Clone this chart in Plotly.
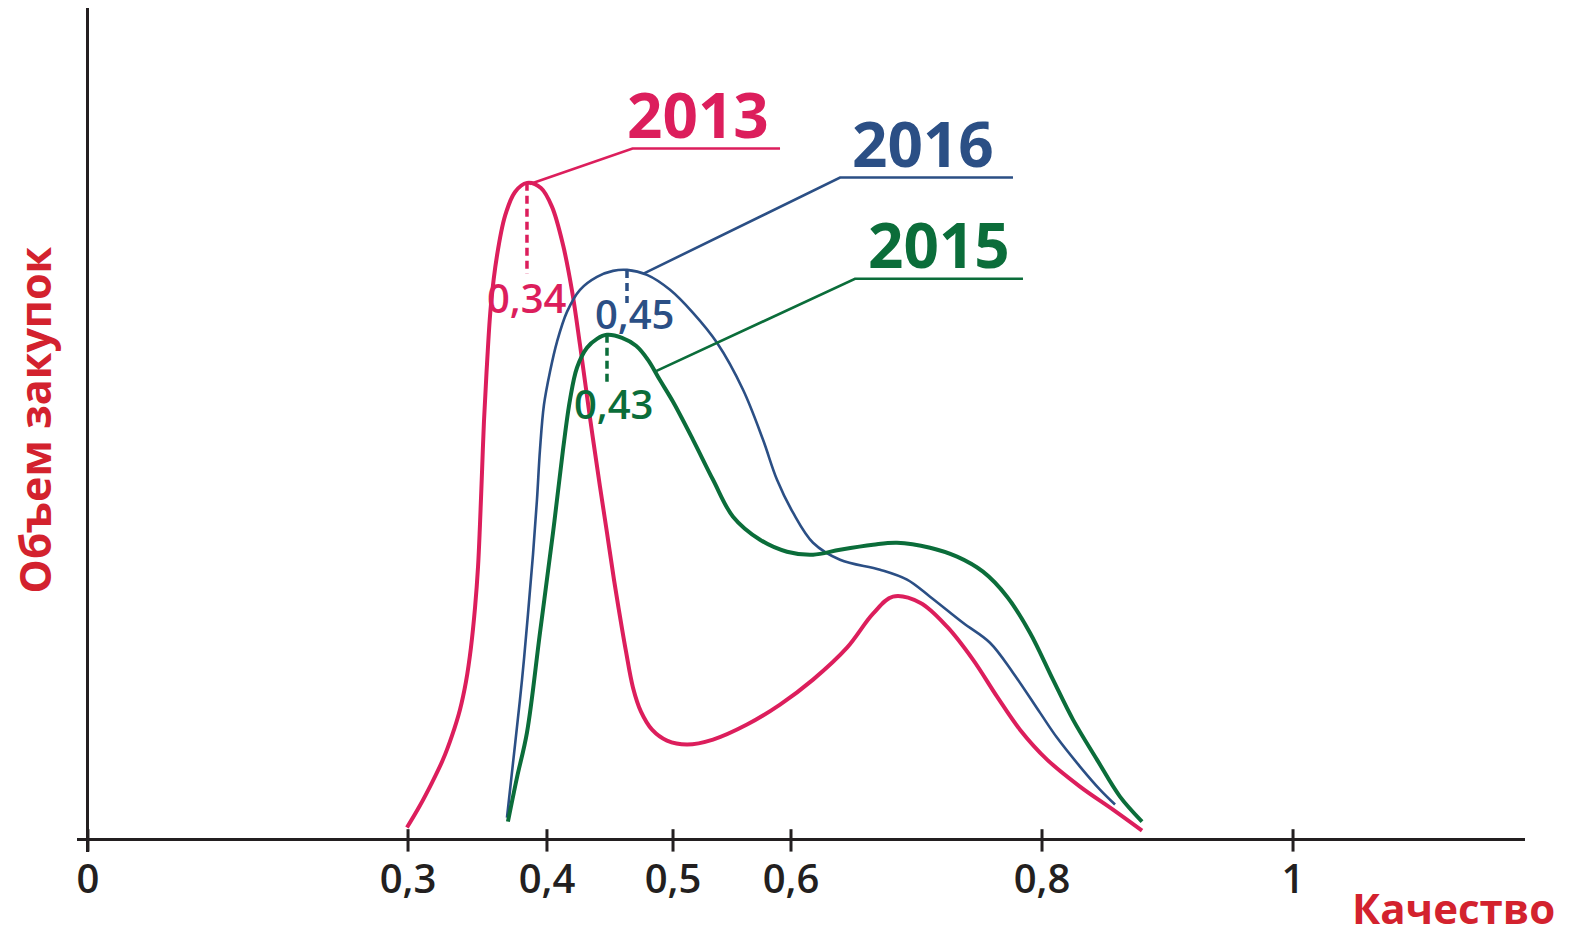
import numpy as np
import plotly.graph_objects as go

# ---- data (x in axis-position units, y = purchase volume, arbitrary units) ----
tick_labels = ["0", "0,3", "0,4", "0,5", "0,6", "0,8", "1"]
tick_pos = [0.0, 0.2656, 0.3809, 0.4855, 0.5834, 0.7917, 1.0]

x_2013 = [0.2647, 0.2755, 0.2855, 0.2946, 0.3021, 0.3087, 0.3137, 0.3178, 0.3212, 0.3237,
          0.3253, 0.3270, 0.3286, 0.3311, 0.3344, 0.3394, 0.3461, 0.3544, 0.3643, 0.3759,
          0.3851, 0.3942, 0.4017, 0.4083, 0.4166, 0.4249, 0.4307, 0.4365, 0.4415, 0.4465,
          0.4523, 0.4589, 0.4681, 0.4805, 0.4971, 0.5187, 0.5469, 0.5743, 0.6017, 0.6299,
          0.6515, 0.6680, 0.6905, 0.7129, 0.7344, 0.7544, 0.7734, 0.7959, 0.8232, 0.8506,
          0.8747]
y_2013 = [1.45, 4.10, 6.87, 9.64, 12.53, 15.66, 19.04, 23.13, 27.95, 32.89,
          37.95, 44.34, 50.36, 57.23, 64.46, 70.36, 75.18, 78.07, 79.16, 78.55,
          76.27, 71.69, 66.14, 59.64, 50.84, 42.53, 36.99, 31.33, 26.87, 22.65,
          18.31, 15.42, 13.25, 11.93, 11.45, 12.05, 13.86, 16.27, 19.28, 23.13,
          27.23, 29.28, 28.55, 25.66, 21.69, 17.23, 13.25, 9.64, 6.39, 3.61,
          1.08]

x_2016 = [0.3477, 0.3544, 0.3602, 0.3651, 0.3693, 0.3726, 0.3751, 0.3784, 0.3834, 0.3892,
          0.3975, 0.4083, 0.4224, 0.4357, 0.4473, 0.4639, 0.4830, 0.5021, 0.5220, 0.5436,
          0.5602, 0.5718, 0.5851, 0.6017, 0.6241, 0.6573, 0.6797, 0.6988, 0.7261, 0.7485,
          0.7676, 0.7900, 0.8041, 0.8232, 0.8398, 0.8523]
y_2016 = [2.65, 11.45, 19.28, 27.11, 34.34, 40.96, 46.99, 52.41, 56.39, 60.00,
          63.61, 66.27, 67.83, 68.55, 68.67, 68.07, 66.27, 63.49, 59.88, 54.22,
          48.19, 43.37, 39.40, 35.78, 33.73, 32.53, 31.33, 29.28, 26.14, 23.73,
          20.12, 15.30, 12.29, 8.80, 6.02, 4.22]

x_2015 = [0.3485, 0.3560, 0.3643, 0.3751, 0.3859, 0.3942, 0.4000, 0.4058, 0.4141, 0.4224,
          0.4307, 0.4432, 0.4548, 0.4647, 0.4745, 0.4855, 0.5021, 0.5187, 0.5353, 0.5577,
          0.5801, 0.6017, 0.6241, 0.6515, 0.6714, 0.6988, 0.7212, 0.7427, 0.7627, 0.7817,
          0.8008, 0.8174, 0.8373, 0.8564, 0.8747]
y_2015 = [2.17, 7.47, 12.89, 24.94, 36.99, 46.99, 53.01, 56.87, 59.28, 60.36,
          60.84, 60.48, 59.52, 57.83, 55.42, 52.77, 48.19, 43.37, 38.92, 36.14,
          34.70, 34.34, 34.94, 35.54, 35.78, 35.18, 34.10, 32.29, 29.28, 24.94,
          19.28, 14.46, 9.64, 5.18, 2.17]

years = ["2013", "2016", "2015"]
peak_labels = ["0,34", "0,45", "0,43"]
colors = ["#dc1e5c", "#2b4f85", "#0b6d3a"]
widths = [4, 2.6, 4]
# leader lines: start on curve, elbow, end of underline (axis units)
leader_start_x = [0.3668, 0.4606, 0.4705]
label_elbow_x = [0.4519, 0.6241, 0.6365]
label_end_x = [0.5743, 0.7676, 0.7759]
label_line_y = [83.3, 79.8, 67.6]
year_label_x = [0.5062, 0.6929, 0.7062]
# peak-value label offsets below the peak
dash_len = [11.0, 4.0, 6.0]
peak_text_dy = [13.8, 5.3, 8.3]
peak_text_dx = [0.0, 0.007, 0.006]

series = [(x_2013, y_2013), (x_2016, y_2016), (x_2015, y_2015)]

AX_COLOR = "#231f20"
TITLE_RED = "#d3222e"
FONT = "Open Sans"

fig = go.Figure()

for (xs, ys), name, col, w in zip(series, years, colors, widths):
    fig.add_trace(go.Scatter(x=xs, y=ys, mode="lines", name=name,
                             line=dict(color=col, width=w, shape="spline", smoothing=1.0),
                             hoverinfo="skip", showlegend=False))

annotations = []
for i, ((xs, ys), name, col) in enumerate(zip(series, years, colors)):
    k = int(np.argmax(ys))
    px, py = xs[k], ys[k]
    # dashed drop line from peak
    fig.add_trace(go.Scatter(x=[px, px], y=[py, py - dash_len[i]], mode="lines",
                             line=dict(color=col, width=3.5, dash="8px,5px"),
                             hoverinfo="skip", showlegend=False))
    # leader line + underline
    sx = leader_start_x[i]
    sy = float(np.interp(sx, xs[k:], ys[k:])) if sx >= px else py
    fig.add_trace(go.Scatter(x=[sx, label_elbow_x[i], label_end_x[i]],
                             y=[sy, label_line_y[i], label_line_y[i]], mode="lines",
                             line=dict(color=col, width=2.6),
                             hoverinfo="skip", showlegend=False))
    # year label
    annotations.append(dict(x=year_label_x[i], y=label_line_y[i],
                            xref="x", yref="y", text=f"<b>{name}</b>", showarrow=False,
                            xanchor="center", yanchor="bottom", yshift=-9,
                            font=dict(family=FONT, size=62, color=col)))
    # peak value label
    annotations.append(dict(x=px + peak_text_dx[i], y=py - peak_text_dy[i], xref="x", yref="y",
                            text=peak_labels[i], showarrow=False, xanchor="center",
                            font=dict(family=FONT, size=40, color=col, weight=600)))

# axis ticks crossing the axis line
shapes = []
for tp in tick_pos:
    shapes.append(dict(type="line", xref="x", yref="y", x0=tp, x1=tp, y0=-1.45, y1=1.25,
                       line=dict(color=AX_COLOR, width=3)))

annotations.append(dict(x=-0.0293, y=0.512, xref="paper", yref="paper", text="<b>Объем закупок</b>",
                        textangle=-90, showarrow=False, xanchor="center", yanchor="middle",
                        borderpad=0,
                        font=dict(family=FONT, size=43, color=TITLE_RED)))
annotations.append(dict(x=0.9503, y=-0.066, xref="paper", yref="paper", text="<b>Качество</b>",
                        showarrow=False, xanchor="center", yanchor="middle", borderpad=0,
                        font=dict(family=FONT, size=42, color=TITLE_RED)))

fig.update_layout(
    width=1573, height=933,
    margin=dict(l=69, r=56, t=0, b=89),
    paper_bgcolor="white", plot_bgcolor="white",
    showlegend=False,
    xaxis=dict(range=[-0.0091, 1.1925], showgrid=False, zeroline=True, zerolinecolor=AX_COLOR,
               zerolinewidth=3, showline=False, tickmode="array", tickvals=tick_pos,
               ticktext=tick_labels, ticks="", ticklabelstandoff=0,
               tickfont=dict(family=FONT, size=40, color=AX_COLOR, weight=600), fixedrange=True),
    yaxis=dict(range=[-1.5, 100.24], showgrid=False, zeroline=True, zerolinecolor=AX_COLOR,
               zerolinewidth=3, showline=False, showticklabels=False, ticks="", fixedrange=True),
    annotations=annotations,
    shapes=shapes,
)

fig.write_html("out.html")
